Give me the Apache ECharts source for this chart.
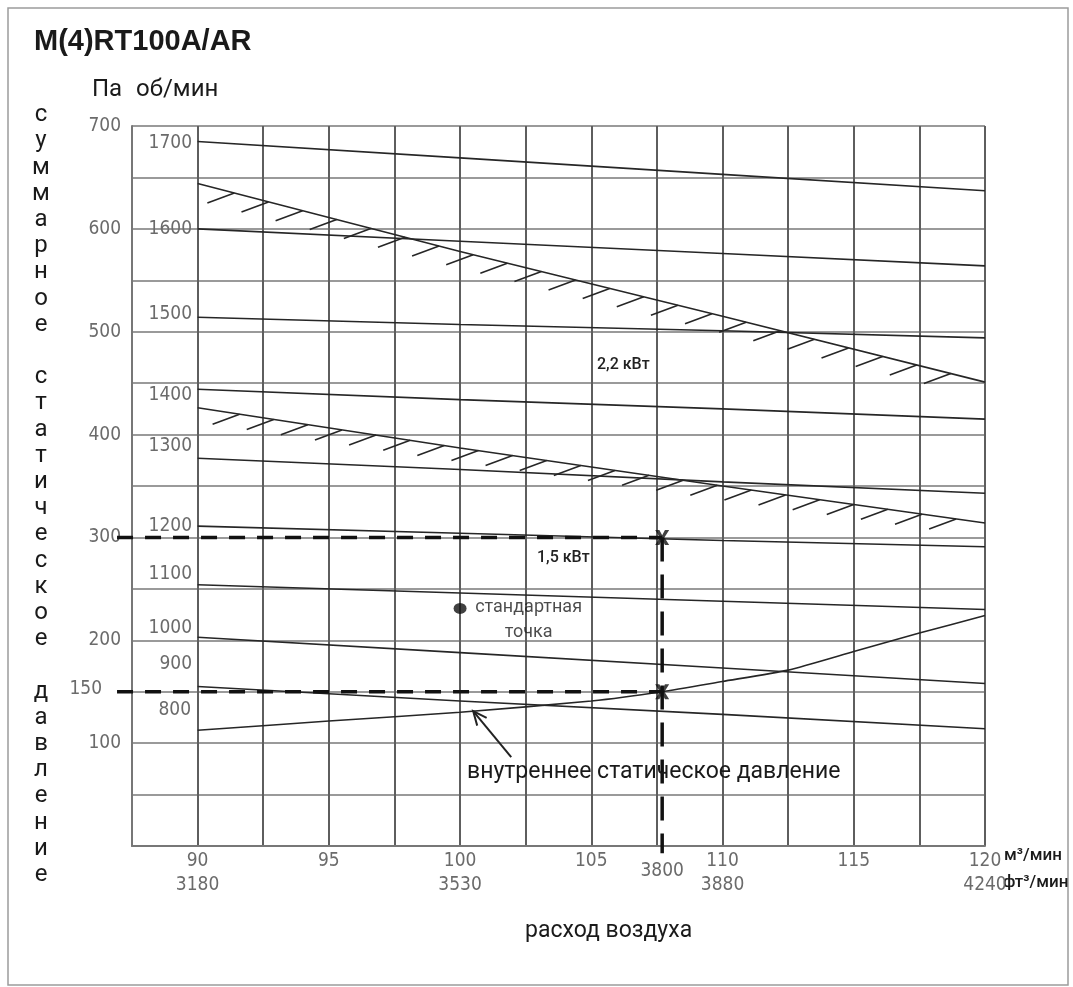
<!DOCTYPE html>
<html><head><meta charset="utf-8">
<script src="https://cdn.jsdelivr.net/npm/echarts@6/dist/echarts.min.js"></script>
<style>html,body{margin:0;padding:0;background:#fff}#c{width:1073px;height:987px}</style>
</head><body><div id="c"></div>
<script>
// ---------------- data ----------------
const flowX = [90, 100, 110, 120];                 // m3/min
const rpmNames = ['1700','1600','1500','1400','1300','1200','1100','1000','900'];
const rpm1700 = [685, 669, 653, 637];
const rpm1600 = [600, 588, 576, 564];
const rpm1500 = [514, 507, 501, 494];
const rpm1400 = [444, 434, 425, 415];
const rpm1300 = [377, 366, 354, 343];
const rpm1200 = [311, 304, 297, 291];
const rpm1100 = [254, 246, 238, 230];
const rpm1000 = [203, 188, 173, 158];
const rpm900  = [155, 141, 128, 114];
const power22X = [90, 100, 110, 120];
const power22  = [644, 578, 515, 451];             // 2,2 кВт limit
const power15X = [90, 100, 110, 120];
const power15  = [426, 387, 350, 314];             // 1,5 кВт limit
const internalX = [90, 95, 100, 105, 107.7, 110, 112.5, 115, 117.5, 120];
const internalP = [112.5, 121.5, 130, 141, 150, 160, 171, 189, 207, 224];
const opFlow = 107.7, opFlowFt = '3800';
const opTotal = 300, opInternal = 150;
const stdFlow = 100, stdP = 231;
const xTopTicks = [90, 95, 100, 105, 110, 115, 120];
const xFtTicks = {90: '3180', 100: '3530', 110: '3880', 120: '4240'};
const yTicks = [100, 200, 300, 400, 500, 600, 700];

// ---------------- styles ----------------
const NARROW = "'Liberation Sans Narrow', 'DejaVu Sans Condensed', sans-serif";
const SANS = "Roboto, 'Open Sans', sans-serif";
const GRAYTXT = '#6b6b6b';
const CURVE = '#262626';
const rpmCurves = [rpm1700, rpm1600, rpm1500, rpm1400, rpm1300, rpm1200, rpm1100, rpm1000, rpm900];
const rpmLabelDy = [2, 0, -3, 6, -12, 0, -11, -9, -23];
const hatchStep = 1.3;
const dashLeftX = 86.93;   // dashed guide lines start slightly left of the plot
const tickFont = {color: GRAYTXT, fontSize: 19, fontFamily: NARROW, opacity: 1};

function interp(xs, ys, x) {
  for (let i = 0; i < xs.length - 1; i++) {
    if (x >= xs[i] && x <= xs[i + 1]) {
      const t = (x - xs[i]) / (xs[i + 1] - xs[i]);
      return ys[i] + t * (ys[i + 1] - ys[i]);
    }
  }
  return ys[ys.length - 1];
}
function hatchData(xs, ys, start) {
  const out = [];
  for (let x = start; x <= xs[xs.length - 1] - 0.3; x += hatchStep) out.push([x, interp(xs, ys, x)]);
  return out;
}
const pairs = (xs, ys) => xs.map((x, i) => [x, ys[i]]);
// invisible symbols so that point labels can be shown
const hiddenSym = {symbol: 'circle', symbolSize: 1, showSymbol: true,
  itemStyle: {color: 'rgba(0,0,0,0)', borderWidth: 0}};

const series = [];
rpmCurves.forEach((arr, k) => {
  const d = pairs(flowX, arr);
  d[0] = {value: d[0], label: Object.assign({show: true, position: 'left', distance: 5, offset: [0, rpmLabelDy[k]],
    formatter: rpmNames[k]}, tickFont)};
  series.push(Object.assign({type: 'line', data: d, silent: true,
    lineStyle: {color: CURVE, width: 1.6}, z: 3}, hiddenSym));
});
[[power22X, power22, 91.4], [power15X, power15, 91.6]].forEach(([xs, ys, st]) => {
  series.push({type: 'line', data: pairs(xs, ys), symbol: 'none', silent: true,
    lineStyle: {color: CURVE, width: 1.6}, z: 3});
  series.push({type: 'custom', coordinateSystem: 'cartesian2d', data: hatchData(xs, ys, st), silent: true, z: 3,
    renderItem: (params, api) => {
      const p = api.coord([api.value(0), api.value(1)]);
      return {type: 'line', shape: {x1: p[0] - 27, y1: p[1] + 10, x2: p[0], y2: p[1]},
        style: {stroke: CURVE, lineWidth: 1.6}};
    }});
});
// internal static pressure curve
series.push({type: 'line', data: pairs(internalX, internalP), symbol: 'none', smooth: 0.2, silent: true,
  lineStyle: {color: CURVE, width: 1.6}, z: 3});
// arrow to internal curve
const arrowX = 100.5;
series.push({type: 'custom', coordinateSystem: 'cartesian2d', data: [[arrowX, interp(internalX, internalP, arrowX)]],
  silent: true, z: 6,
  renderItem: (params, api) => {
    const p = api.coord([api.value(0), api.value(1)]);
    const tx = p[0] + 38, ty = p[1] + 46;
    const ang = Math.atan2(ty - p[1], tx - p[0]);
    const L = 15, a = 0.42;
    return {type: 'group', children: [
      {type: 'line', shape: {x1: tx, y1: ty, x2: p[0], y2: p[1]}, style: {stroke: '#222', lineWidth: 2}},
      {type: 'polyline', shape: {points: [
        [p[0] + L * Math.cos(ang - a), p[1] + L * Math.sin(ang - a)], [p[0], p[1]],
        [p[0] + L * Math.cos(ang + a), p[1] + L * Math.sin(ang + a)]]},
        style: {stroke: '#222', lineWidth: 2, fill: 'none'}}
    ]};
  }});
// dashed operating lines (custom series so they can extend past the plot edge)
const guideLines = [
  {a: [dashLeftX, opTotal], b: [opFlow, opTotal], dash: [16, 12]},
  {a: [dashLeftX, opInternal], b: [opFlow, opInternal], dash: [16, 12], label: String(opInternal)},
  {a: [opFlow, opTotal], b: [opFlow, -7], dash: [24, 13], label: opFlowFt}
];
series.push({type: 'custom', coordinateSystem: 'cartesian2d', clip: false, silent: true, z: 5,
  data: guideLines.map(g => [g.a[0], g.a[1], g.b[0], g.b[1]]),
  renderItem: (params, api) => {
    const g = guideLines[params.dataIndex];
    const p1 = api.coord([api.value(0), api.value(1)]);
    const p2 = api.coord([api.value(2), api.value(3)]);
    const children = [{type: 'line', shape: {x1: p1[0], y1: p1[1], x2: p2[0], y2: p2[1]},
      style: {stroke: '#111', lineWidth: 3.5, lineDash: g.dash}}];
    if (g.label && params.dataIndex === 1) {
      children.push({type: 'text', style: {text: g.label, x: p1[0] - 15, y: p1[1] - 3, align: 'right', verticalAlign: 'middle',
        fill: GRAYTXT, fontSize: 19, fontFamily: NARROW}});
    }
    if (g.label && params.dataIndex === 2) {
      children.push({type: 'text', style: {text: g.label, x: p2[0], y: p2[1] + 8, align: 'center', verticalAlign: 'top',
        fill: GRAYTXT, fontSize: 19, fontFamily: NARROW}});
    }
    return {type: 'group', children: children};
  }});
// X marks
series.push({type: 'scatter', silent: true, z: 7, symbolSize: [14, 15], itemStyle: {color: '#111'},
  symbol: 'path://M0,0 L3,0 L5,3.6 L7,0 L10,0 L6.6,5 L10,10 L7,10 L5,6.4 L3,10 L0,10 L3.4,5 Z',
  data: [[opFlow, opTotal], [opFlow, opInternal]]});
// standard point
series.push({type: 'scatter', silent: true, z: 7, symbol: 'circle', symbolSize: [13, 11], itemStyle: {color: '#111'},
  data: [{value: [stdFlow, stdP], label: {show: true, position: 'right', distance: 9, offset: [0, 12],
    formatter: '{a|стандартная}\n{a|точка}',
    rich: {a: {width: 106, align: 'center', fontSize: 18, lineHeight: 25, fontFamily: SANS, color: '#1e1e1e'}}}}]});

const chart = echarts.init(document.getElementById('c'), null, {renderer: 'canvas'});
const vText = 'суммарное статическое давление'.split('').map(c => c === ' ' ? '' : c).join('\n');
chart.setOption({
  animation: false,
  backgroundColor: '#fff',
  grid: {left: 132, right: 88, top: 126, bottom: 141, containLabel: false},
  xAxis: {type: 'value', min: 87.5, max: 120, interval: 2.5,
    axisLine: {show: true, lineStyle: {color: '#777', width: 2}}, axisTick: {show: false},
    splitLine: {show: true, lineStyle: {color: '#5e5e5e', width: 2}},
    axisLabel: Object.assign({margin: 3, lineHeight: 24,
      formatter: v => xTopTicks.indexOf(v) >= 0 ? (xFtTicks[v] ? v + '\n' + xFtTicks[v] : String(v)) : ''}, tickFont)},
  yAxis: {type: 'value', min: 0, max: 700, interval: 50,
    axisLine: {show: true, lineStyle: {color: '#777', width: 2}}, axisTick: {show: false},
    splitLine: {show: true, lineStyle: {color: '#9a9a9a', width: 2}},
    axisLabel: Object.assign({margin: 11, padding: [8, 0, 0, 0],
      formatter: v => yTicks.indexOf(v) >= 0 ? String(v) : ''}, tickFont)},
  series: series,
  graphic: [
    {type: 'rect', shape: {x: 8, y: 8, width: 1060, height: 977}, style: {fill: 'none', stroke: '#9c9c9c', lineWidth: 1.5}, z: -1},
    {type: 'text', style: {text: 'M(4)RT100A/AR', x: 34, y: 42, verticalAlign: 'middle', fontSize: 29, fontWeight: 'bold',
      fontFamily: "'Liberation Sans', Arial, sans-serif", fill: '#1a1a1a'}},
    {type: 'text', style: {text: 'Па', x: 92, y: 90, verticalAlign: 'middle', fontSize: 24, fontFamily: SANS, fill: '#1a1a1a'}},
    {type: 'text', style: {text: 'об/мин', x: 136, y: 90, verticalAlign: 'middle', fontSize: 24, fontFamily: SANS, fill: '#1a1a1a'}},
    {type: 'text', style: {text: vText, x: 41, y: 102, align: 'center', verticalAlign: 'top', lineHeight: 26.2,
      fontSize: 24, fontFamily: SANS, fill: '#1a1a1a'}},
    {type: 'text', style: {text: '800', x: 191, y: 710, align: 'right', verticalAlign: 'middle', fontSize: 19, fontFamily: NARROW, fill: GRAYTXT}},
    {type: 'text', z: 10, style: {text: '2,2 кВт', x: 597, y: 365, verticalAlign: 'middle', fontSize: 16, fontWeight: 500, fontFamily: SANS, fill: '#222'}},
    {type: 'text', z: 10, style: {text: '1,5 кВт', x: 537, y: 558, verticalAlign: 'middle', fontSize: 16, fontWeight: 500, fontFamily: SANS, fill: '#222'}},
    {type: 'text', z: 10, style: {text: 'внутреннее статическое давление', x: 467, y: 772, verticalAlign: 'middle',
      fontSize: 23, fontFamily: SANS, fill: '#1a1a1a'}},
    {type: 'text', style: {text: 'расход воздуха', x: 525, y: 931, verticalAlign: 'middle', fontSize: 23, fontFamily: SANS, fill: '#1a1a1a'}},
    {type: 'text', style: {text: 'м³/мин', x: 1004, y: 856, verticalAlign: 'middle', fontSize: 17, fontWeight: 500, fontFamily: SANS, fill: '#1a1a1a'}},
    {type: 'text', style: {text: 'фт³/мин', x: 1003, y: 883, verticalAlign: 'middle', fontSize: 17, fontWeight: 500, fontFamily: SANS, fill: '#1a1a1a'}}
  ]
});
</script></body></html>
